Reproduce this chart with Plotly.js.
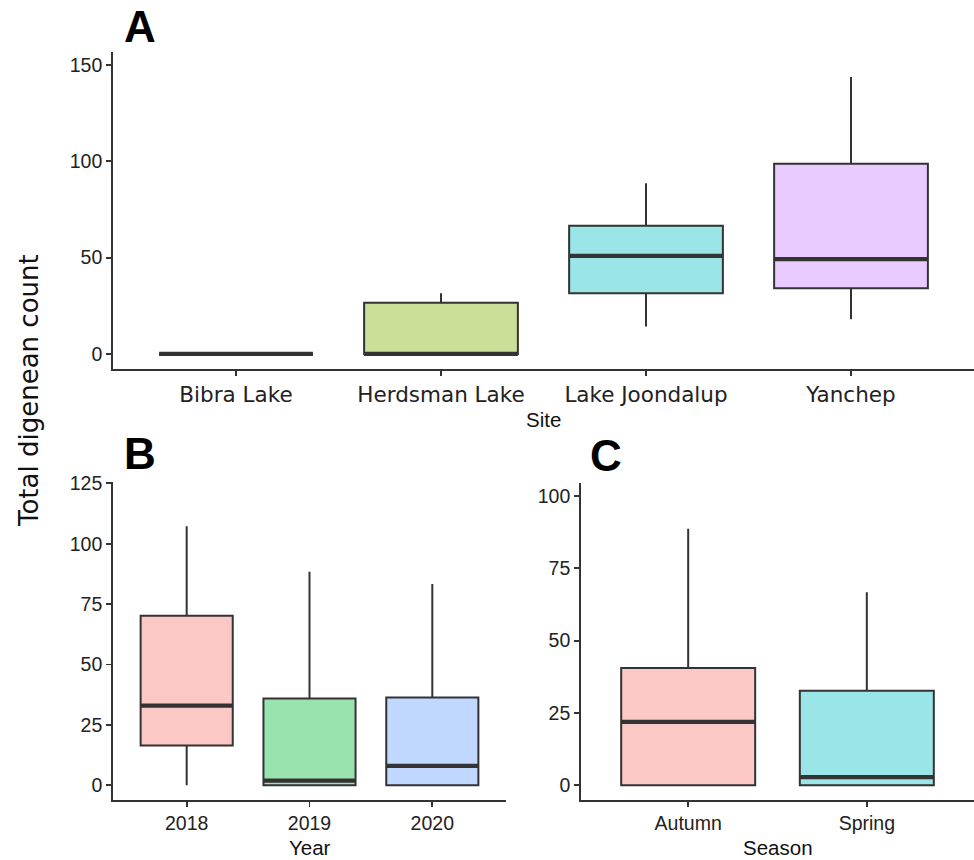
<!DOCTYPE html>
<html>
<head>
<meta charset="utf-8">
<script src="https://cdn.plot.ly/plotly-3.0.1.min.js"></script>
<style>html,body{margin:0;padding:0;background:#fff;} #chart{width:974px;height:860px;}</style>
</head>
<body>
<div id="chart"></div>
<script>
// ---- Data ----
const siteCats = ['Bibra Lake', 'Herdsman Lake', 'Lake Joondalup', 'Yanchep'];
const siteQ1 = [0, 0, 31.5, 34.1];
const siteMedian = [0, 0, 50.9, 49.2];
const siteQ3 = [0, 26.6, 66.5, 98.7];
const siteLower = [0, 0, 14.2, 18.0];
const siteUpper = [0, 31.5, 88.6, 143.7];

const yearCats = ['2018', '2019', '2020'];
const yearQ1 = [16.5, 0, 0];
const yearMedian = [33.0, 1.9, 8.0];
const yearQ3 = [70.2, 35.9, 36.3];
const yearLower = [0, 0, 0];
const yearUpper = [107.3, 88.4, 83.3];

const seasonCats = ['Autumn', 'Spring'];
const seasonQ1 = [0, 0];
const seasonMedian = [21.9, 2.8];
const seasonQ3 = [40.5, 32.7];
const seasonLower = [0, 0];
const seasonUpper = [88.7, 66.7];

const siteColors = ['#FCC8C5', '#CBDF99', '#99E5E7', '#E9CBFF'];
const yearColors = ['#FCC8C5', '#99E3AF', '#C0D7FF'];
const seasonColors = ['#FCC8C5', '#99E5E7'];

const LINE = '#333333';
const W = 974, H = 860;
const HALF = 0.375;

const traces = [];
const shapes = [];
function addPanel(cats, q1, med, q3, lo, hi, colors, xa, ya) {
  cats.forEach((c, i) => {
    traces.push({
      type: 'box', x: [c], q1: [q1[i]], median: [med[i]], q3: [q3[i]],
      lowerfence: [lo[i]], upperfence: [hi[i]],
      fillcolor: colors[i], line: {color: LINE, width: 2},
      whiskerwidth: 0, boxpoints: false, showlegend: false, hoverinfo: 'skip',
      xaxis: xa, yaxis: ya
    });
    shapes.push({
      type: 'line', xref: xa, yref: ya,
      x0: i - HALF, x1: i + HALF, y0: med[i], y1: med[i],
      line: {color: LINE, width: 4.2}, layer: 'above'
    });
  });
}
addPanel(siteCats, siteQ1, siteMedian, siteQ3, siteLower, siteUpper, siteColors, 'x', 'y');
addPanel(yearCats, yearQ1, yearMedian, yearQ3, yearLower, yearUpper, yearColors, 'x2', 'y2');
addPanel(seasonCats, seasonQ1, seasonMedian, seasonQ3, seasonLower, seasonUpper, seasonColors, 'x3', 'y3');

function px(x) { return x / W; }
function py(y) { return 1 - y / H; }

const numFont = {family: 'Liberation Sans, Arial, sans-serif', size: 19.5, color: '#222'};
function yAxis(domTop, domBot, range, tickvals, anchor) {
  return {
    domain: [py(domBot), py(domTop)], range: range, tickvals: tickvals,
    showline: true, linecolor: LINE, linewidth: 1.8, ticks: 'outside', ticklen: 5,
    tickwidth: 1.8, tickcolor: LINE, showgrid: false, zeroline: false,
    tickfont: numFont, anchor: anchor, fixedrange: true
  };
}
function xAxis(left, right, n, font, anchor) {
  return {
    domain: [px(left), px(right)], type: 'category', range: [-0.6, n - 0.4],
    showline: true, linecolor: LINE, linewidth: 1.8, ticks: 'outside', ticklen: 5,
    tickwidth: 1.8, tickcolor: LINE, showgrid: false, zeroline: false,
    tickfont: font, anchor: anchor, fixedrange: true
  };
}

const titleFont = {family: 'Liberation Sans, Arial, sans-serif', size: 20.5, color: '#111'};
const letterFont = {family: 'Liberation Sans, Arial, sans-serif', size: 44, color: '#000'};

const layout = {
  width: W, height: H, margin: {l: 0, r: 0, t: 0, b: 0},
  paper_bgcolor: '#fff', plot_bgcolor: '#fff',
  boxmode: 'overlay', boxgap: 0.25, boxgroupgap: 0,
  showlegend: false,
  xaxis: xAxis(113, 974, siteCats.length, {family: 'DejaVu Sans, Verdana, sans-serif', size: 21.5, color: '#222'}, 'y'),
  yaxis: yAxis(52, 369, [-7.8, 156.7], [0, 50, 100, 150], 'x'),
  xaxis2: xAxis(113, 506, yearCats.length, numFont, 'y2'),
  yaxis2: yAxis(481.7, 800, [-6.1, 125.7], [0, 25, 50, 75, 100, 125], 'x2'),
  xaxis3: xAxis(581, 974, seasonCats.length, numFont, 'y3'),
  yaxis3: yAxis(482.7, 800, [-5.1, 104.6], [0, 25, 50, 75, 100], 'x3'),
  shapes: shapes,
  annotations: [
    {text: '<b>A</b>', xref: 'paper', yref: 'paper', x: px(122), y: py(27), xanchor: 'left', yanchor: 'middle', showarrow: false, font: letterFont},
    {text: '<b>B</b>', xref: 'paper', yref: 'paper', x: px(122), y: py(453), xanchor: 'left', yanchor: 'middle', showarrow: false, font: letterFont},
    {text: '<b>C</b>', xref: 'paper', yref: 'paper', x: px(588), y: py(455), xanchor: 'left', yanchor: 'middle', showarrow: false, font: letterFont},
    {text: 'Site', xref: 'paper', yref: 'paper', x: px(543.5), y: py(419), xanchor: 'center', yanchor: 'middle', showarrow: false, font: titleFont},
    {text: 'Year', xref: 'paper', yref: 'paper', x: px(309.6), y: 0, xanchor: 'center', yanchor: 'bottom', borderpad: 0, showarrow: false, font: titleFont},
    {text: 'Season', xref: 'paper', yref: 'paper', x: px(777.5), y: 0, xanchor: 'center', yanchor: 'bottom', borderpad: 0, showarrow: false, font: titleFont},
    {text: 'Total digenean count', xref: 'paper', yref: 'paper', x: px(29), y: py(391), xanchor: 'center', yanchor: 'middle', textangle: -90, showarrow: false,
     font: {family: 'DejaVu Sans, Verdana, sans-serif', size: 26, color: '#111'}}
  ]
};

Plotly.newPlot('chart', traces, layout, {displayModeBar: false, staticPlot: true});
</script>
</body>
</html>
